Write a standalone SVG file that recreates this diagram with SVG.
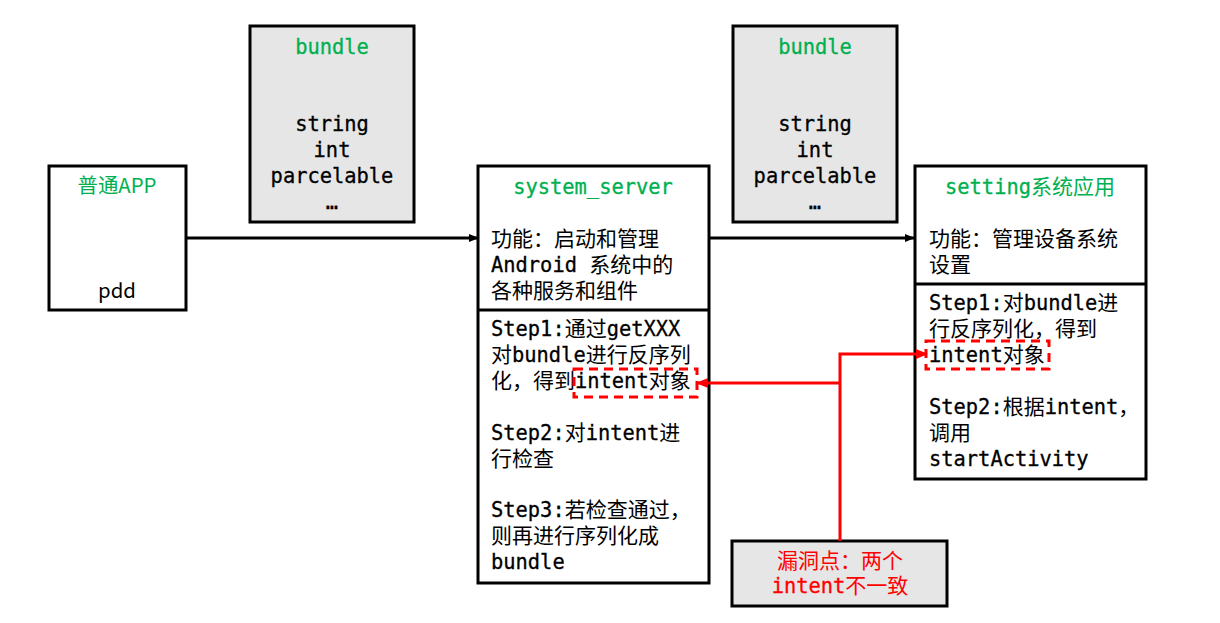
<svg xmlns="http://www.w3.org/2000/svg" width="1220" height="623" viewBox="0 0 1220 623">
<defs>
<marker id="ab" markerWidth="10" markerHeight="8" refX="9" refY="4" orient="auto" markerUnits="userSpaceOnUse"><path d="M0,0 L10,4 L0,8 Z" fill="#000"/></marker>
<marker id="ar" markerWidth="12" markerHeight="10" refX="11" refY="5" orient="auto" markerUnits="userSpaceOnUse"><path d="M0,0 L12,5 L0,10 Z" fill="#ff0000"/></marker>
<style>
.box{fill:#fff;stroke:#000;stroke-width:3}
.gbox{fill:#e6e6e6;stroke:#000;stroke-width:3}
.t{font-family:"Noto Sans CJK SC","DejaVu Sans",sans-serif;font-size:21px;fill:#000}
.m{font-family:"DejaVu Sans Mono",monospace;font-size:20.4px;stroke:#000;stroke-width:0.3}
.g{fill:#00b050}
.g .m,.m.g{stroke:#00b050}
.r{fill:#ff0000}
.r .m{stroke:#ff0000}
.c{text-anchor:middle}
.dash{fill:none;stroke:#ff0000;stroke-width:3;stroke-dasharray:9,6}
</style>
</defs>
<g id="app">
<rect class="box" x="49" y="166" width="137" height="144"/>
<text class="t g c" x="117" y="193" style="font-size:20.4px">普通APP</text>
<text class="t c" x="117" y="298" style="font-size:20.4px">pdd</text>
</g>
<g id="bundle1">
<rect class="gbox" x="250" y="26" width="164" height="196"/>
<text class="t m g c" x="332" y="54">bundle</text>
<text class="t m c" x="332" y="131">string</text>
<text class="t m c" x="332" y="157">int</text>
<text class="t m c" x="332" y="183">parcelable</text>
<text class="t m c" x="332" y="209">…</text>
</g>
<g id="bundle2">
<rect class="gbox" x="733" y="26" width="164" height="196"/>
<text class="t m g c" x="815" y="54">bundle</text>
<text class="t m c" x="815" y="131">string</text>
<text class="t m c" x="815" y="157">int</text>
<text class="t m c" x="815" y="183">parcelable</text>
<text class="t m c" x="815" y="209">…</text>
</g>
<g id="system_server">
<rect class="box" x="478" y="166" width="231" height="417"/>
<line x1="478" y1="310" x2="709" y2="310" stroke="#000" stroke-width="3"/>
<text class="t m g c" x="593" y="194">system_server</text>
<text class="t" x="491" y="246">功能：启动和管理</text>
<text class="t" x="491" y="272"><tspan class="m">Android </tspan>系统中的</text>
<text class="t" x="491" y="298">各种服务和组件</text>
<text class="t" x="491" y="336"><tspan class="m">Step1:</tspan>通过<tspan class="m">getXXX</tspan></text>
<text class="t" x="491" y="362">对<tspan class="m">bundle</tspan>进行反序列</text>
<text class="t" x="491" y="388">化，得到<tspan class="m">intent</tspan>对象</text>
<rect class="dash" x="574" y="369" width="123" height="28"/>
<text class="t" x="491" y="440"><tspan class="m">Step2:</tspan>对<tspan class="m">intent</tspan>进</text>
<text class="t" x="491" y="466">行检查</text>
<text class="t" x="491" y="517"><tspan class="m">Step3:</tspan>若检查通过，</text>
<text class="t" x="491" y="543">则再进行序列化成</text>
<text class="t m" x="491" y="569">bundle</text>
</g>
<g id="setting">
<rect class="box" x="915" y="166" width="231" height="313"/>
<line x1="915" y1="284" x2="1146" y2="284" stroke="#000" stroke-width="3"/>
<text class="t g c" x="1030" y="194"><tspan class="m">setting</tspan>系统应用</text>
<text class="t" x="929" y="246">功能：管理设备系统</text>
<text class="t" x="929" y="272">设置</text>
<text class="t" x="929" y="310"><tspan class="m">Step1:</tspan>对<tspan class="m">bundle</tspan>进</text>
<text class="t" x="929" y="336">行反序列化，得到</text>
<text class="t" x="929" y="362"><tspan class="m">intent</tspan>对象</text>
<rect class="dash" x="926" y="341" width="123" height="28"/>
<text class="t" x="929" y="414"><tspan class="m">Step2:</tspan>根据<tspan class="m">intent</tspan>，</text>
<text class="t" x="929" y="440">调用</text>
<text class="t m" x="929" y="466">startActivity</text>
</g>
<g id="vuln">
<rect class="gbox" x="732" y="541" width="215" height="65"/>
<text class="t r c" x="840" y="568">漏洞点：两个</text>
<text class="t r c" x="840" y="593"><tspan class="m">intent</tspan>不一致</text>
</g>
<g id="connectors">
<line x1="186" y1="238" x2="478" y2="238" stroke="#000" stroke-width="3" marker-end="url(#ab)"/>
<line x1="709" y1="238" x2="914" y2="238" stroke="#000" stroke-width="3" marker-end="url(#ab)"/>
<polyline points="840,541 840,354 927,354" fill="none" stroke="#ff0000" stroke-width="3" marker-end="url(#ar)"/>
<line x1="840" y1="383" x2="697" y2="383" stroke="#ff0000" stroke-width="3" marker-end="url(#ar)"/>
</g>
</svg>
